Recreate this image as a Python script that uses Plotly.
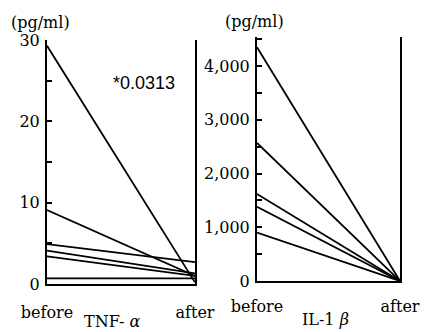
import plotly.graph_objects as go

x_labels = ["before", "after"]
tnf_before = [29.3, 9.1, 4.9, 4.1, 3.4, 0.7]
tnf_after = [0.2, 1.0, 2.7, 1.3, 1.0, 0.7]
il_before = [4350, 2570, 1620, 1380, 900]
il_after = [0, 0, 0, 0, 0]

W, H = 424, 332
fig = go.Figure()

for b, a in zip(tnf_before, tnf_after):
    fig.add_trace(go.Scatter(x=[0, 1], y=[b, a], mode="lines",
                             line=dict(color="black", width=1.8),
                             xaxis="x", yaxis="y", showlegend=False, hoverinfo="skip"))
for b, a in zip(il_before, il_after):
    fig.add_trace(go.Scatter(x=[0, 1], y=[b, a], mode="lines",
                             line=dict(color="black", width=1.8),
                             xaxis="x2", yaxis="y2", showlegend=False, hoverinfo="skip"))

serif = "DejaVu Serif"
axis_common = dict(showline=True, linecolor="black", linewidth=2, showgrid=False,
                   zeroline=False, automargin=False)

def ann(text, x, y, size=16, family=serif):
    return dict(text=text, x=x/W, y=(H-y)/H, xref="paper", yref="paper",
                xanchor="center", yanchor="middle", showarrow=False,
                font=dict(family=family, size=size, color="black"))

fig.update_layout(
    width=W, height=H, margin=dict(l=0, r=0, t=0, b=0),
    paper_bgcolor="white", plot_bgcolor="white",
    font=dict(family=serif, size=16, color="black"),
    xaxis=dict(domain=[47/W, 195/W], range=[0, 1], tickvals=[0, 1], ticktext=x_labels,
               ticks="", anchor="y", ticklabelstandoff=13, **axis_common),
    yaxis=dict(domain=[(H-284)/H, (H-40)/H], range=[0, 30], tickvals=[0, 10, 20, 30],
               ticks="inside", ticklen=5, tickwidth=1.5, tickcolor="black",
               minor=dict(tickvals=[5, 15, 25], ticks="inside", ticklen=5, tickwidth=1.5, tickcolor="black"),
               mirror=True, anchor="x", ticklabelstandoff=2, **axis_common),
    xaxis2=dict(domain=[257/W, 400/W], range=[0, 1], tickvals=[0, 1], ticktext=x_labels,
                ticks="", anchor="y2", ticklabelstandoff=10, **axis_common),
    yaxis2=dict(domain=[(H-281)/H, (H-37)/H], range=[0, 4540], tickvals=[0, 1000, 2000, 3000, 4000],
                ticktext=["0", "1,000", "2,000", "3,000", "4,000"],
                ticks="inside", ticklen=5, tickwidth=1.5, tickcolor="black",
                minor=dict(tickvals=[500, 1500, 2500, 3500, 4500], ticks="inside", ticklen=5,
                           tickwidth=1.5, tickcolor="black"),
                mirror=True, anchor="x2", ticklabelstandoff=2, **axis_common),
    annotations=[
        ann("(pg/ml)", 40, 22),
        ann("(pg/ml)", 254, 21),
        ann("*0.0313", 144, 83, size=18, family="Liberation Sans"),
        ann("TNF- <i>α</i>", 112, 321),
        ann("IL-1 <i>β</i>", 325, 319),
    ],
)

fig.write_html("out.html")
